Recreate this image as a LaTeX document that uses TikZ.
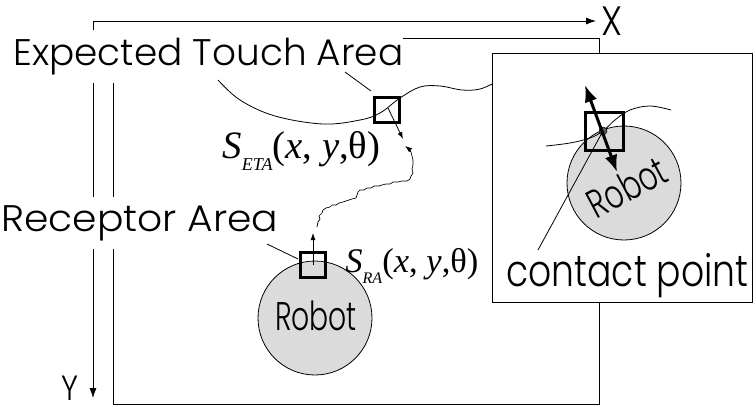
\documentclass[tikz,border=0pt]{standalone}
\usepackage{fontspec}
\usepackage{graphicx}
\newfontfamily\gothic{Poppins}[UprightFont=* Light]
\newfontfamily\tnr{Liberation Serif}
\usetikzlibrary{arrows.meta}
\newcommand\gtext[3]{\resizebox{#1}{\height}{\fontsize{#2}{#2}\selectfont\gothic #3}}
\begin{document}
\begin{tikzpicture}[x=1pt,y=-1pt,
  every path/.style={line width=0.8pt},
  lbl/.style={fill=white, inner xsep=0pt, inner ysep=8pt, anchor=base west},
  txt/.style={inner sep=0pt},
  sqbox/.style={draw, line width=2.5pt, minimum size=#1, inner sep=0pt},
  robot/.style={circle, draw, line width=0.8pt, fill=black!14, minimum size=114pt, inner sep=0pt},
  smallarrow/.style={-{Latex[length=7pt,width=5pt]}},
  axisarrow/.style={{Latex[length=10pt,width=7pt]}-{Latex[length=10pt,width=7pt]}},
  bigarrow/.style={line width=3pt,{Latex[length=17pt,width=13pt]}-{Latex[length=17pt,width=13pt]}}
]
\useasboundingbox (0,0) rectangle (756,407);

% axes
\coordinate (O) at (93,21);
\coordinate (Xtip) at (596,21);
\coordinate (Ytip) at (93,398);
\draw[axisarrow] (Xtip) -- (O) -- (Ytip);
\node[txt, anchor=base west] (X) at (601,35) {\gtext{21pt}{41}{X}};
\node[txt, anchor=base west] (Y) at (61,400) {\gtext{17pt}{35}{Y}};

% main field
\draw (113,38) rectangle (599,404);

% labels
\node[lbl] (eta) at (13,65) {\gtext{390pt}{37}{Expected Touch Area}};
\node[lbl] (ra) at (1,231) {\gtext{277pt}{37}{Receptor Area}};

% expected touch boundary
\draw plot[smooth, tension=0.6] coordinates {(218,80) (240,100) (275,116) (323,124) (360,120) (380,113) (400,98) (420,87) (440,86) (462,90) (480,89) (496,82)};

% robot (main)
\node[robot] (robot1) at (315,318) {};
\node[txt] (robottext1) at (316,316) {\gtext{82pt}{40}{Robot}};

% squares
\node[sqbox=25pt] (ETAsq) at (387,110) {};
\node[sqbox=25pt] (RAsq) at (313,265) {};

% pointer lines
\coordinate (etaptr) at (345,72);
\coordinate (etaend) at (371,91);
\draw (etaptr) -- (etaend);
\coordinate (raptr) at (267,244);
\coordinate (raend) at (298,259);
\draw (raptr) -- (raend);

% arrows
\coordinate (etatip) at (403,139);
\draw[smallarrow] (388,108) -- (etatip);
\coordinate (ratip) at (313,233);
\draw[smallarrow] (RAsq.center) -- (ratip);

% wiggly path
\coordinate (wstart) at (317,227);
\coordinate (wend) at (405,146);
\draw[smallarrow, line width=0.7pt] (wstart) -- (318,222) -- (320,219) -- (319,216) -- (322,213) -- (323,210) -- (326,208) -- (330,207) -- (332,205) -- (336,205) -- (339,203) -- (343,202) -- (346,201) -- (349,200) -- (352,199) -- (356,198) -- (357,195) -- (358,192) -- (360,190) -- (364,190) -- (367,188) -- (371,188) -- (374,186) -- (379,186) -- (382,185) -- (386,184) -- (390,184) -- (393,182) -- (398,182) -- (402,181) -- (407,181) -- (410,179) -- (411,176) -- (413,173) -- (412,169) -- (413,165) -- (413,160) -- (412,156) -- (411,152) -- (409,149) -- (wend);

% S labels
\node[txt, anchor=base west] (seta) at (222,158) {\resizebox{158pt}{!}{\tnr\fontsize{30}{30}\selectfont\textit{S}\raisebox{-0.32em}{\fontsize{14}{14}\selectfont\textit{ETA}}(\textit{x}, \textit{y},θ)}};
\node[txt, anchor=base west] (sra) at (345,272) {\resizebox{133pt}{!}{\tnr\fontsize{30}{30}\selectfont\textit{S}\raisebox{-0.32em}{\fontsize{14}{14}\selectfont\textit{RA}}(\textit{x}, \textit{y},θ)}};

% inset
\draw[fill=white] (492,53) rectangle (752,302);
\node[robot] (robot2) at (624,183) {};
\node[txt, rotate=28] (robottext2) at (627,187) {\gtext{84pt}{40}{Robot}};
\node[sqbox=38pt, line width=3pt] (cpsq) at (604,131) {};
\draw plot[smooth, tension=0.6] coordinates {(546,146) (570,143) (590,138) (603,131) (615,120) (630,110) (650,106) (671,110)};
\coordinate (cpptr) at (538,250);
\node[circle, draw, fill=black!65, minimum size=8pt, inner sep=0pt, line width=0.5pt] (cp) at (603,131) {};
\draw (cpptr) -- (cp.center);
\coordinate (atop) at (585,85);
\coordinate (abot) at (617,172);
\draw[bigarrow] (atop) -- (abot);
\node[txt, anchor=base west] (cptext) at (506,286) {\gtext{242pt}{44}{contact point}};
\end{tikzpicture}
\end{document}
